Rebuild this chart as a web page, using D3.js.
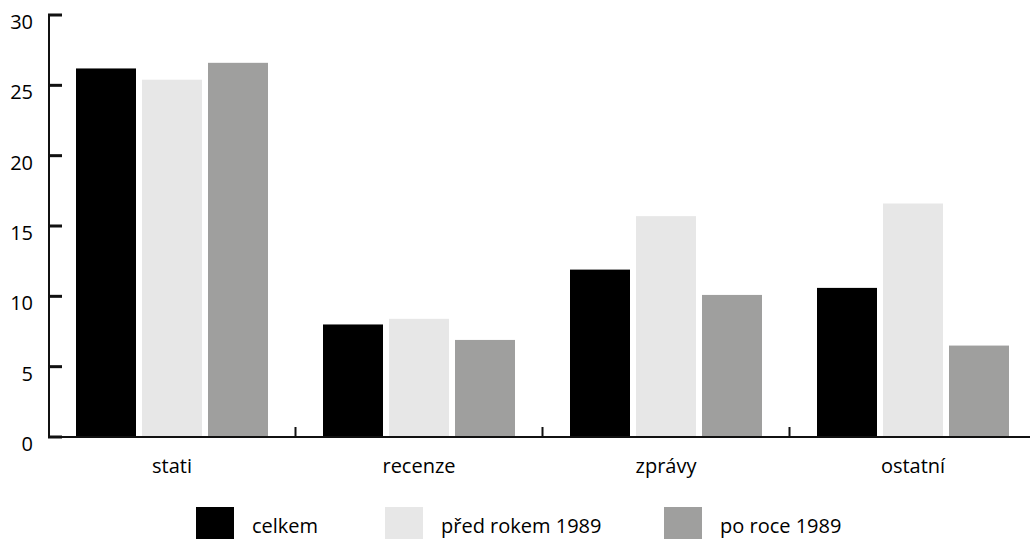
<!DOCTYPE html>
<html><head><meta charset="utf-8">
<script src="https://cdn.jsdelivr.net/npm/d3@7/dist/d3.min.js"></script>
<style>
html,body{margin:0;padding:0;background:#fff;overflow:hidden}
text{font-family:"Open Sans",sans-serif;fill:#000}
</style></head>
<body>
<svg id="c" width="1030" height="539"></svg>
<script>
const categories = ["stati", "recenze", "zprávy", "ostatní"];
const seriesNames = ["celkem", "před rokem 1989", "po roce 1989"];
const celkem = [26.2, 8.0, 11.9, 10.6];
const predRokem1989 = [25.4, 8.4, 15.7, 16.6];
const poRoce1989 = [26.6, 6.9, 10.1, 6.5];
const yTicks = [0, 5, 10, 15, 20, 25, 30];
const colors = ["#000000", "#e7e7e7", "#9f9f9e"];

const seriesValues = [celkem, predRokem1989, poRoce1989];
const data = categories.map((c, i) => ({cat: c, vals: seriesNames.map((s, j) => ({s, v: seriesValues[j][i], j}))}));

const svg = d3.select("#c");
const y = d3.scaleLinear().domain([0, 30]).range([437, 15]);
const x0 = d3.scaleBand().domain(categories).range([48.5, 1036.5]);
const bw = x0.bandwidth();
const x1 = d3.scaleBand().domain(seriesNames).range([(bw - 192) / 2, (bw - 192) / 2 + 192]).paddingInner(6 / 66);
const color = d3.scaleOrdinal().domain(seriesNames).range(colors);

// bars
const g = svg.append("g");
g.selectAll("g.grp").data(data).join("g")
  .attr("transform", d => `translate(${x0(d.cat)},0)`)
  .selectAll("rect").data(d => d.vals).join("rect")
  .attr("x", d => x1(d.s))
  .attr("width", x1.bandwidth())
  .attr("y", d => y(d.v))
  .attr("height", d => y(0) - y(d.v))
  .attr("fill", d => color(d.s));

// y axis
const ya = svg.append("g").attr("transform", "translate(49,0)")
  .call(d3.axisLeft(y).tickValues(yTicks).tickSize(0).tickSizeOuter(0).tickPadding(16));
ya.select(".domain").attr("stroke", "#111").attr("stroke-width", 2).attr("d", `M0,${y(30) - 1}V${y(0) + 1}`);
ya.selectAll(".tick line").remove();
ya.selectAll(".tick text").attr("font-size", 20).attr("dy", "0.68em").attr("font-family", "Open Sans").attr("fill", "#000");
svg.append("g").selectAll("rect").data(yTicks).join("rect")
  .attr("x", 48).attr("width", 14)
  .attr("y", d => y(d) - 1.5).attr("height", 3)
  .attr("fill", "#111");

// x axis
const xa = svg.append("g").attr("transform", "translate(0,437)")
  .call(d3.axisBottom(x0).tickSize(0).tickSizeOuter(0).tickPadding(0));
xa.select(".domain").attr("d", "M48,0H1030").attr("stroke", "#111").attr("stroke-width", 2);
xa.selectAll(".tick text").attr("font-size", 20).attr("dy", "0").attr("y", 36).attr("font-family", "Open Sans").attr("fill", "#000");
xa.selectAll("rect.sep").data(categories.slice(1)).join("rect").attr("class", "sep")
  .attr("x", d => x0(d) - 1).attr("width", 2).attr("y", -10).attr("height", 10)
  .attr("fill", "#111");

// legend
const legendX = [196, 385, 664];
const lg = svg.append("g").selectAll("g").data(seriesNames).join("g")
  .attr("transform", (d, i) => `translate(${legendX[i]},507)`);
lg.append("rect").attr("width", 38).attr("height", 38).attr("fill", d => color(d));
lg.append("text").attr("x", 56).attr("y", 26).attr("font-size", 20).text(d => d);
</script>
</body></html>
